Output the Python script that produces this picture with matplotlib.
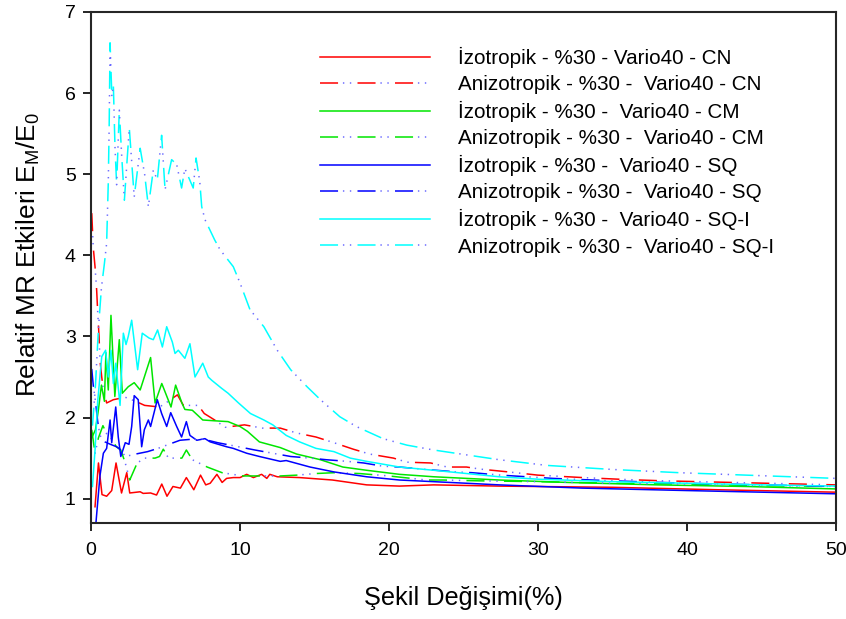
import numpy as np
import matplotlib
matplotlib.use("Agg")
import matplotlib.pyplot as plt

plt.rcParams['font.family'] = ['Liberation Sans', 'DejaVu Sans']
plt.rcParams['mathtext.fontset'] = 'custom'
plt.rcParams['mathtext.rm'] = 'Liberation Sans'
plt.rcParams['mathtext.it'] = 'Liberation Sans'
plt.rcParams['lines.scale_dashes'] = False

# İzotropik CN (red, solid)
iso_cn_x = [0.27, 0.5, 0.74, 1.05, 1.39, 1.68, 2.05, 2.4, 2.6, 3.3, 3.5, 4.0, 4.4, 4.75, 5.1,
            5.5, 6.0, 6.4, 6.9, 7.35, 7.7, 8.0, 8.45, 8.8, 9.1, 9.55, 10.0, 10.45, 10.9, 11.45,
            11.8, 12.0, 12.5, 14.0, 16.2, 18.5, 20.7, 23.0, 27.4, 35, 42, 50]
iso_cn_y = [0.9, 1.44, 1.05, 1.03, 1.1, 1.44, 1.07, 1.32, 1.07, 1.085, 1.065, 1.07, 1.045, 1.18, 1.03,
            1.15, 1.13, 1.26, 1.11, 1.29, 1.17, 1.19, 1.30, 1.20, 1.25, 1.26, 1.26, 1.30, 1.26, 1.30,
            1.25, 1.30, 1.27, 1.26, 1.23, 1.17, 1.155, 1.17, 1.155, 1.14, 1.11, 1.08]

# Anizotropik CN (red, dashed)
ani_cn_x = [0.05, 0.15, 0.27, 0.38, 0.45, 0.54, 0.6, 0.72, 0.83, 1.05, 1.5, 2.3, 3.0, 3.6, 4.6, 5.1,
            5.8, 6.2, 7.2, 7.6, 8.3, 9.0, 10.3, 11.5, 12.7, 13.8, 15.1, 16.3, 17.6, 18.7, 20.3, 21.2,
            22.8, 23.9, 25.2, 26.1, 28, 30, 33, 36, 38.4, 43, 50]
ani_cn_y = [4.52, 4.1, 3.86, 3.57, 3.3, 3.0, 2.71, 2.5, 2.34, 2.18, 2.22, 2.25, 2.2, 2.15, 2.13, 2.19,
            2.28, 2.15, 2.15, 2.05, 1.97, 1.88, 1.91, 1.87, 1.87, 1.81, 1.76, 1.69, 1.61, 1.55, 1.50, 1.45,
            1.44, 1.39, 1.39, 1.365, 1.33, 1.29, 1.26, 1.235, 1.22, 1.20, 1.17]

# İzotropik CM (green, solid)
iso_cm_x = [0.05, 0.3, 0.5, 0.7, 0.9, 1.0, 1.16, 1.34, 1.6, 1.9, 2.1, 2.5, 2.9, 3.3, 4.0, 4.3, 4.75,
            5.37, 5.68, 6.1, 6.3, 6.8, 7.5, 8.3, 9.2, 10.0, 10.5, 11.3, 12.7, 13.8, 15.4, 16.9, 18.5,
            20.7, 23.0, 25.2, 27.4, 32, 38, 44, 50]
iso_cm_y = [1.75, 1.85, 2.1, 2.4, 2.2, 2.8, 2.34, 3.26, 2.26, 2.96, 2.30, 2.38, 2.43, 2.34, 2.74, 2.18, 2.42,
            2.13, 2.40, 2.18, 2.10, 2.09, 1.97, 1.96, 1.95, 1.89, 1.83, 1.70, 1.63, 1.55, 1.48, 1.39, 1.35,
            1.30, 1.27, 1.25, 1.23, 1.20, 1.17, 1.15, 1.12]

# Anizotropik CM (green, dashed)
ani_cm_x = [0.05, 0.27, 0.5, 0.8, 1.05, 1.3, 1.7, 2.0, 2.3, 2.6, 3.1, 3.6, 4.3, 4.6, 4.85, 5.2, 6.1,
            6.4, 6.8, 7.8, 8.8, 10.2, 11.5, 12.7, 13.8, 15.1, 16.3, 18, 20, 22.5, 23.6, 26, 30, 35, 40,
            45, 50]
ani_cm_y = [1.85, 1.56, 1.75, 1.9, 1.8, 1.76, 1.64, 1.6, 1.44, 1.23, 1.44, 1.50, 1.50, 1.52, 1.61, 1.50, 1.50,
            1.60, 1.48, 1.39, 1.32, 1.28, 1.28, 1.28, 1.29, 1.31, 1.32, 1.31, 1.28, 1.23, 1.23, 1.22, 1.21,
            1.19, 1.18, 1.16, 1.15]

# İzotropik SQ (blue, solid)
iso_sq_x = [0.34, 0.6, 0.83, 1.05, 1.28, 1.39, 1.66, 1.83, 2.0, 2.3, 2.55, 2.73, 2.9, 3.17, 3.4, 3.58,
            3.85, 4.0, 4.45, 4.74, 5.08, 5.35, 5.75, 6.08, 6.4, 6.64, 7.1, 7.65, 8.0, 9.1, 9.55, 10.45,
            11.3, 12.7, 13.1, 14.7, 16.3, 18.5, 20.7, 25.2, 27.4, 33, 40, 45, 50]
iso_sq_y = [0.72, 1.28, 1.56, 1.62, 1.97, 1.69, 2.13, 1.76, 1.52, 1.69, 1.67, 1.89, 2.27, 2.22, 1.64, 1.85,
            1.97, 1.89, 2.22, 2.05, 1.89, 2.06, 1.89, 1.76, 1.95, 1.78, 1.72, 1.74, 1.70, 1.64, 1.62, 1.56,
            1.52, 1.46, 1.47, 1.39, 1.33, 1.27, 1.23, 1.19, 1.17, 1.13, 1.10, 1.08, 1.06]

# Anizotropik SQ (blue, dashed)
ani_sq_x = [0.05, 0.15, 0.3, 0.45, 0.6, 0.94, 1.3, 1.72, 2.0, 2.3, 3.0, 3.8, 4.5, 5.08, 5.97, 6.6, 7.4,
            8.5, 9.9, 11.0, 12.2, 13.4, 14.7, 15.8, 17.2, 18.3, 19.6, 20.7, 22.5, 24.5, 25.6, 27.5, 31,
            35, 40, 45, 50]
ani_sq_y = [2.6, 2.4, 2.2, 1.95, 1.78, 1.70, 1.67, 1.64, 1.60, 1.52, 1.55, 1.58, 1.62, 1.66, 1.72, 1.73, 1.74,
            1.69, 1.64, 1.60, 1.56, 1.52, 1.50, 1.48, 1.46, 1.44, 1.40, 1.39, 1.36, 1.33, 1.32, 1.29, 1.25,
            1.22, 1.19, 1.17, 1.15]

# İzotropik SQ-I (cyan, solid)
iso_sqi_x = [0.1, 0.27, 0.45, 0.72, 0.98, 1.16, 1.34, 1.5, 1.66, 1.95, 2.17, 2.35, 2.5, 2.73, 3.13, 3.44,
             3.9, 4.18, 4.47, 4.79, 5.08, 5.46, 5.64, 5.86, 6.3, 6.64, 6.98, 7.5, 7.87, 8.1, 8.77, 9.2,
             9.55, 9.9, 10.7, 11.6, 12.2, 13.1, 14.0, 15.1, 16.3, 17.4, 18.5, 20.7, 23.0, 25.2, 27.4, 30,
             35, 40, 45, 50]
iso_sqi_y = [1.15, 1.6, 2.2, 2.75, 2.83, 2.50, 2.83, 2.42, 2.67, 2.15, 3.04, 2.9, 3.0, 3.20, 2.59, 3.04,
             2.98, 2.96, 3.08, 2.87, 3.12, 2.93, 2.79, 2.83, 2.73, 2.91, 2.50, 2.67, 2.50, 2.46, 2.36, 2.30,
             2.24, 2.18, 2.05, 1.97, 1.91, 1.78, 1.70, 1.62, 1.58, 1.50, 1.46, 1.39, 1.35, 1.31, 1.27, 1.24,
             1.21, 1.19, 1.17, 1.155]

# Anizotropik SQ-I (cyan, dashed)
ani_sqi_x = [0.1, 0.3, 0.5, 0.7, 0.9, 1.05, 1.16, 1.22, 1.28, 1.4, 1.5, 1.61, 1.72, 1.9, 2.05, 2.24, 2.57,
             2.9, 3.3, 3.6, 3.85, 4.18, 4.45, 4.74, 4.97, 5.41, 5.75, 6.08, 6.3, 6.86, 7.05, 7.3, 7.43,
             7.65, 8.3, 8.66, 9.55, 10.0, 10.67, 11.6, 12.5, 13.4, 14.5, 15.4, 16.7, 17.8, 19.6, 21.2,
             23.0, 25.2, 27.4, 30.6, 35, 39.5, 44, 50]
ani_sqi_y = [1.9, 2.4, 3.1, 3.6, 3.9, 4.15, 4.9, 5.6, 6.62, 5.96, 6.1, 5.34, 4.87, 5.79, 5.26, 4.68, 5.57,
             4.72, 5.32, 5.0, 4.6, 5.05, 4.93, 5.48, 4.81, 5.18, 5.12, 4.83, 5.07, 4.83, 5.20, 4.91, 4.60,
             4.44, 4.19, 4.07, 3.86, 3.66, 3.33, 3.12, 2.83, 2.59, 2.38, 2.22, 2.01, 1.89, 1.74, 1.66,
             1.60, 1.54, 1.48, 1.41, 1.36, 1.32, 1.29, 1.25]

labels = ["İzotropik - %30 - Vario40 - CN",
          "Anizotropik - %30 -  Vario40 - CN",
          "İzotropik - %30 -  Vario40 - CM",
          "Anizotropik - %30 -  Vario40 - CM",
          "İzotropik - %30 -  Vario40 - SQ",
          "Anizotropik - %30 -  Vario40 - SQ",
          "İzotropik - %30 -  Vario40 - SQ-I",
          "Anizotropik - %30 -  Vario40 - SQ-I"]

series = [(iso_cn_x, iso_cn_y, '#ff0000', False),
          (ani_cn_x, ani_cn_y, '#ff0000', True),
          (iso_cm_x, iso_cm_y, '#00e600', False),
          (ani_cm_x, ani_cm_y, '#00e600', True),
          (iso_sq_x, iso_sq_y, '#0000ff', False),
          (ani_sq_x, ani_sq_y, '#0000ff', True),
          (iso_sqi_x, iso_sqi_y, '#00ffff', False),
          (ani_sqi_x, ani_sqi_y, '#00ffff', True)]

dot_color = '#6a6aff'
lw = 1.1

fig = plt.figure(figsize=(8.46, 6.19), dpi=100)
ax = fig.add_axes([91 / 846, 96 / 619, 745 / 846, 511 / 619])

handles = []
for x, y, c, dashed in series:
    if not dashed:
        h, = ax.plot(x, y, color=c, lw=lw)
        handles.append(h)
    else:
        h1, = ax.plot(x, y, color=c, lw=lw, linestyle=(0, (13, 14)))
        h2, = ax.plot(x, y, color=dot_color, lw=lw, linestyle=(10.5, (1, 4, 1, 21)))
        handles.append((h1, h2))

ax.set_xlim(0, 50)
ax.set_ylim(0.7, 7)
ax.set_xticks([0, 10, 20, 30, 40, 50])
ax.set_yticks([1, 2, 3, 4, 5, 6, 7])
ax.tick_params(direction='out', length=6, width=1.2, labelsize=14, colors='#000000')
ax.tick_params(axis='x', pad=8)
ax.tick_params(axis='y', pad=5)
for s in ax.spines.values():
    s.set_linewidth(1.5)
    s.set_color('#262626')

ax.legend(handles, labels, loc='upper left', bbox_to_anchor=(320 / 846, 1 - 47 / 619),
          bbox_transform=fig.transFigure, frameon=False, fontsize=14.9, handlelength=5.3,
          handletextpad=1.35, labelspacing=0.34, borderpad=0, borderaxespad=0)

fig.text(463 / 846, 1 - 598 / 619, 'Şekil Değişimi(%)', fontsize=18.2, ha='center', va='center')
fig.text(28 / 846, 1 - 255 / 619, r'Relatif MR Etkileri E$_\mathregular{M}$/E$_\mathregular{0}$',
         fontsize=18.8, rotation=90, ha='center', va='center')

fig.savefig('out.png', dpi=100)
